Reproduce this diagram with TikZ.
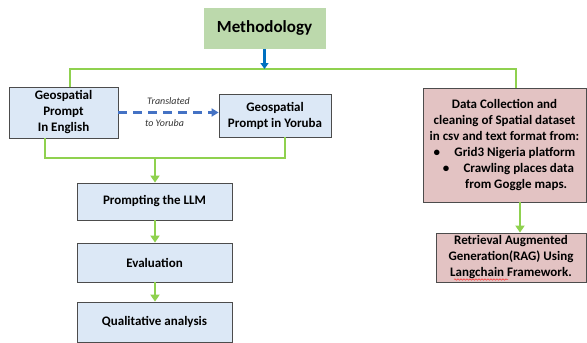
\documentclass[tikz,border=0pt]{standalone}
\usepackage{fontspec}
\setmainfont{Carlito}
\usetikzlibrary{arrows.meta,decorations.pathmorphing}
\definecolor{boxblue}{HTML}{DCE8F6}
\definecolor{boxpink}{HTML}{E3C3C3}
\definecolor{boxgreen}{HTML}{BCD9AC}
\definecolor{lgreen}{HTML}{8FD14F}
\definecolor{darrow}{HTML}{4472C4}
\definecolor{barrow}{HTML}{0070C0}
\tikzset{
  x=1pt, y=-1pt,
  box/.style={draw=black!70, line width=0.8pt, rectangle, align=center, font=\fontsize{13}{16}\selectfont\bfseries, inner sep=2pt},
  bluebox/.style={box, fill=boxblue},
  pinkbox/.style={box, fill=boxpink},
  gline/.style={draw=lgreen, line width=2.4pt},
  garrow/.style={gline, -{Triangle[width=9pt,length=7pt]}},
}
\begin{document}
\begin{tikzpicture}
\useasboundingbox (0,0) rectangle (587,343);
\node[box, fill=boxgreen, draw=none, minimum width=122pt, minimum height=41pt, font=\fontsize{17}{20}\selectfont\bfseries] (meth) at (264.5,28) {Methodology};
\node[bluebox, minimum width=109pt, minimum height=51pt] (eng) at (63.5,112.5) {Geospatial\\Prompt\\In English};
\node[bluebox, minimum width=112pt, minimum height=43pt] (yor) at (275,115.5) {Geospatial\\Prompt in Yoruba};
\node[bluebox, minimum width=155pt, minimum height=37pt] (prompt) at (154.5,201.5) {Prompting the LLM};
\node[bluebox, minimum width=155pt, minimum height=39pt] (eval) at (154.5,262.5) {Evaluation};
\node[bluebox, minimum width=155pt, minimum height=40pt] (qual) at (154.5,322) {Qualitative analysis};
\node[pinkbox, minimum width=163pt, minimum height=114pt, font=\fontsize{13}{16}\selectfont\bfseries] (data) at (504.5,145) {Data Collection and\\cleaning of Spatial dataset\\in csv and text format from:\\\textbullet\hspace{1.1em}Grid3 Nigeria platform\\\hspace{0.6em}\textbullet\hspace{1.1em}Crawling places data\\\hspace{1.8em}from Goggle maps.};
\node[pinkbox, minimum width=150pt, minimum height=49pt, font=\fontsize{13}{16}\selectfont\bfseries, inner sep=0pt] (rag) at (511,257.5) {Retrieval Augmented\\Generation(RAG) Using\\Langchain Framework.};

\coordinate (busL) at (70,69);
\coordinate (busR) at (516,69);
\coordinate (el) at (45,158);
\coordinate (yr) at (285,158);
\coordinate (mid) at (155,158);
\coordinate (dr) at (520,0);
\coordinate (sqa) at (454,279.5);
\coordinate (sqb) at (508,279.5);

\draw[gline] (busL |- eng.north) -- (busL) -- (busR) -- (busR |- data.north);
\draw[draw=barrow, line width=2.2pt, -{Triangle[width=8pt,length=6pt]}] (meth.south) -- (meth.south |- busL);
\draw[gline] (el |- eng.south) -- (el) -- (yr) -- (yr |- yor.south);
\draw[garrow] (mid) -- (mid |- prompt.north);
\draw[garrow] (prompt.south -| mid) -- (eval.north -| mid);
\draw[garrow] (eval.south -| mid) -- (qual.north -| mid);
\draw[garrow] (dr |- data.south) -- (dr |- rag.north);
\draw[draw=darrow, line width=2.2pt, dash pattern=on 9pt off 6pt, -{Triangle[width=8pt,length=7pt]}] (eng.east) -- (eng.east -| yor.west)
  node[midway, above=3pt, font=\fontsize{10}{11}\selectfont\itshape, text=black!80] (tl) {Translated}
  node[midway, below=3pt, xshift=-4pt, font=\fontsize{10}{11}\selectfont\itshape, text=black!80] (ty) {to Yoruba};
\draw[red!80, line width=0.5pt, decorate, decoration={snake, amplitude=0.7pt, segment length=3pt}] (sqa) -- (sqb);
\end{tikzpicture}
\end{document}
